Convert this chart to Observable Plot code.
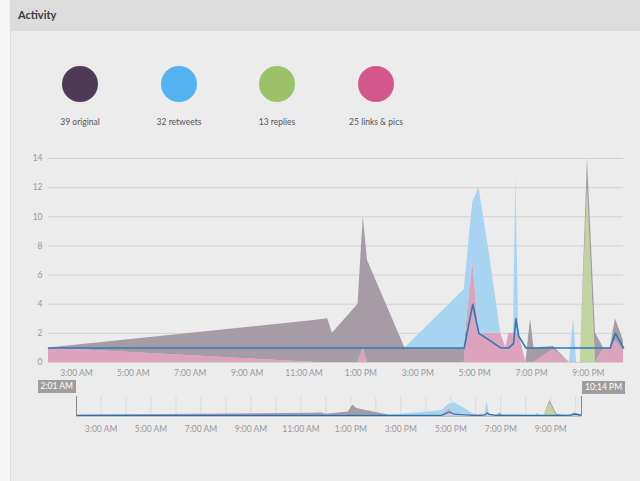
<!DOCTYPE html>
<html>
<head>
<meta charset="utf-8">
<script src="https://cdn.jsdelivr.net/npm/d3@7"></script>
<script src="https://cdn.jsdelivr.net/npm/@observablehq/plot@0.6"></script>
<style>
  body { margin: 0; background: #f6f6f6; font-family: "Lato", "Open Sans", sans-serif; }
  #root { position: relative; width: 640px; height: 481px; overflow: hidden; }
  .panel { position: absolute; left: 10px; top: 0; width: 630px; height: 481px; background: #ececec; border-left: 1px solid #dddddd; }
  .header { position: absolute; left: 10px; top: 0; width: 630px; height: 31px; background: #dcdcdc; }
  .header span { position: absolute; left: 8px; top: 8px; font-size: 11px; font-weight: 700; color: #3a3a3a; font-family: "Lato", sans-serif; }
  .leg { position: absolute; width: 120px; text-align: center; }
  .leg .dot { width: 36px; height: 36px; border-radius: 50%; margin: 0 auto; }
  .leg .lab { margin-top: 15px; font-size: 8.5px; color: #555; }
  .flag { position: absolute; background: #9e9e9e; color: #fff; font-size: 8.5px; line-height: 13px; height: 13px; padding: 0 3px; }
  svg { overflow: visible; }
</style>
</head>
<body>
<div id="root">
  <div class="panel"></div>
  <div class="header"><span>Activity</span></div>
  <div id="legend"></div>
  <div id="main" style="position:absolute;left:0;top:150px"></div>
  <div id="nav" style="position:absolute;left:0;top:380px"></div>
  <div id="flags"></div>
</div>
<script>
// ---- data ----
const seriesNames = ["original", "retweets", "replies", "links & pics"];
const seriesCounts = [39, 32, 13, 25];
const legendColors = ["#4e3a56", "#52b3f0", "#9cc269", "#d3578b"];
const areaColors = ["#a79ba6", "#a6d4f1", "#c1d69e", "#dda3bd"];

const times    = ["02:01","11:26","11:50","12:00","12:54","13:05","13:14","14:33","16:38","16:56","17:09","17:30","17:55","18:06","18:12","18:22","18:27","18:33","18:48","18:58","19:05","19:46","20:20","20:29","20:35","20:43","20:58","21:15","21:32","21:46","21:57","22:14"];
const links    = [1,   0,   0, 0, 0, 1, 0, 0, 0, 7, 2,   2,   2, 1, 2, 2, 2,    2,   0, 0, 0, 0.9, 0, 0, 0, 0, 0,  0, 1, 1, 1.5, 0.8];
const replies  = [0,   0,   0, 0, 0, 0, 0, 0, 0, 0, 0,   0,   0, 0, 0, 0, 0,    0,   0, 0, 0, 0,   0, 0, 0, 0, 12, 0, 0, 0, 0,   0];
const original = [0, 2.9,   3, 2, 4, 9, 7, 1, 1, 0, 0,   0,   0, 0, 0, 0, 0,    0,   0, 3, 1, 0.2, 0, 0, 0, 0, 2,  2, 0, 0, 1.5, 0.7];
const retweets = [0,   0,   0, 0, 0, 0, 0, 0, 4, 4, 10, 5.7,  0, 0, 0, 0, 10.7, 0,   0, 0, 0, 0,   0, 3, 0, 0, 0,  0, 0, 0, 0,   0];
const lineVals = [1,   1,   1, 1, 1, 1, 1, 1, 1, 4, 2, 1.55, 1, 1, 1, 1.3, 3, 1.8,   1, 1, 1, 1,   1, 1, 1, 1, 1,  1, 1, 1, 2,   1];

const xTickTimes = ["03:00","05:00","07:00","09:00","11:00","13:00","15:00","17:00","19:00","21:00"];
const yTicks = [0, 2, 4, 6, 8, 10, 12, 14];

// ---- build ----
const parse = d3.timeParse("%H:%M");
const fmt = d3.timeFormat("%-I:%M %p");
const T = times.map(parse);
const xTicks = xTickTimes.map(parse);
const t0 = T[0], t1 = T[T.length - 1];

// stacking order bottom -> top
const stackOrder = [["links & pics", links], ["replies", replies], ["original", original], ["retweets", retweets]];
const rows = [];
for (const [name, vals] of stackOrder) {
  vals.forEach((v, i) => rows.push({t: T[i], v, s: name}));
}
const lineRows = lineVals.map((v, i) => ({t: T[i], v}));

const colorScale = {domain: seriesNames, range: areaColors};

// legend
const legend = document.getElementById("legend");
const legX = [80, 179, 277, 376];
seriesNames.forEach((n, i) => {
  const d = document.createElement("div");
  d.className = "leg";
  d.style.left = (legX[i] - 60) + "px";
  d.style.top = "66px";
  d.innerHTML = `<div class="dot" style="background:${legendColors[i]}"></div><div class="lab">${seriesCounts[i]} ${n}</div>`;
  legend.appendChild(d);
});

const font = "Lato, 'Open Sans', sans-serif";

const main = Plot.plot({
  width: 640, height: 235,
  marginLeft: 48, marginRight: 17, marginTop: 8, marginBottom: 23,
  style: {background: "transparent", fontSize: "8.5px", fontFamily: font, color: "#999"},
  x: {type: "time", domain: [t0, t1], label: null},
  y: {domain: [0, 14], label: null},
  color: colorScale,
  marks: [
    Plot.gridY(yTicks, {stroke: "#d2d2d2", strokeOpacity: 1}),
    Plot.areaY(rows, {x: "t", y: "v", fill: "s", z: "s", order: null}),
    Plot.lineY(lineRows, {x: "t", y: "v", stroke: "#2a7cb6", strokeWidth: 1.6}),
    Plot.axisY(yTicks, {tickSize: 0, tickPadding: 6, label: null, fill: "#999"}),
    Plot.axisX(xTicks, {tickSize: 0, tickPadding: 7, tickFormat: fmt, label: null, fill: "#999"})
  ]
});
document.getElementById("main").appendChild(main);

const hourTicks = d3.timeHour.range(d3.timeHour.ceil(t0), t1);
const nav = Plot.plot({
  width: 640, height: 55,
  marginLeft: 76, marginRight: 59, marginTop: 15, marginBottom: 19,
  style: {background: "transparent", fontSize: "8.5px", fontFamily: font, color: "#999"},
  x: {type: "time", domain: [t0, t1], label: null},
  y: {domain: [0, 14], range: [36, 20], label: null, axis: null},
  color: colorScale,
  marks: [
    Plot.ruleX(hourTicks, {y1: 0, y2: 17.5, stroke: "#dadada"}),
    Plot.areaY(rows, {x: "t", y: "v", fill: "s", z: "s", order: null}),
    Plot.areaY(lineRows, {x: "t", y: "v", fill: "#bfe0f5", fillOpacity: 0.6}),
    Plot.lineY(lineRows, {x: "t", y: "v", stroke: "#2a6fa6", strokeWidth: 1.2}),
    Plot.ruleY([0], {stroke: "#b0c8d8"}),
    Plot.ruleX([t0, t1], {y1: 0, y2: 17.5, stroke: "#888"}),
    Plot.axisX(xTicks, {tickSize: 0, tickPadding: 9, tickFormat: fmt, label: null, fill: "#999"})
  ]
});
document.getElementById("nav").appendChild(nav);

// range flags
const flags = document.getElementById("flags");
const f1 = document.createElement("div");
f1.className = "flag"; f1.textContent = fmt(t0);
f1.style.right = (640 - 76) + "px"; f1.style.top = "380px";
flags.appendChild(f1);
const f2 = document.createElement("div");
f2.className = "flag"; f2.textContent = fmt(t1);
f2.style.left = "582px"; f2.style.top = "381px";
flags.appendChild(f2);
</script>
</body>
</html>
